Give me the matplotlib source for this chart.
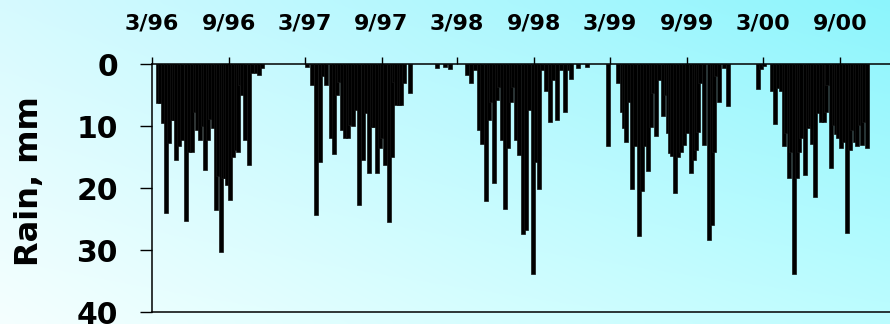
import numpy as np
import pandas as pd
import matplotlib
matplotlib.use("Agg")
import matplotlib.pyplot as plt
import matplotlib.dates as mdates

# Daily rainfall (mm) by day of year, one pair of lists per wet season
doy_1996 = [75, 80, 87, 94, 102, 109, 114, 118, 126, 133, 142, 149, 157, 164, 169,
            176, 183, 188, 195, 200, 207, 214, 219, 226, 231, 236, 240, 247, 255,
            262, 267, 271, 276, 283, 293, 300, 310, 317, 324]
rain_1996 = [6.3, 6.3, 9.5, 24.0, 12.8, 9.0, 9.0, 15.5, 13.3, 12.3, 25.4, 14.2, 14.2,
             7.7, 10.6, 12.3, 10.0, 17.1, 12.3, 8.8, 10.4, 23.5, 18.0, 30.3, 18.4, 18.4,
             19.5, 22.0, 15.0, 13.9, 14.2, 3.4, 5.0, 12.3, 16.3, 1.5, 1.5, 1.8, 0.7]

doy_1997 = [66, 78, 87, 97, 104, 111, 123, 130, 137, 142, 149, 156, 164, 168, 176,
            183, 190, 200, 207, 214, 221, 226, 233, 240, 245, 252, 262, 269, 274,
            278, 286, 290, 298, 312]
rain_1997 = [0.5, 3.4, 24.4, 15.8, 2.0, 3.4, 11.9, 14.5, 5.0, 2.9, 10.6, 11.9, 11.9,
             9.8, 10.0, 7.4, 22.7, 15.5, 7.9, 17.6, 10.1, 10.1, 17.6, 13.5, 11.9, 16.3,
             25.5, 15.0, 2.9, 6.6, 6.6, 6.6, 3.1, 4.7]

doy_1998 = [11, 31, 43, 83, 93, 102, 112, 119, 129, 136, 141, 148, 155, 160, 167,
            174, 181, 188, 193, 200, 208, 217, 224, 231, 241, 248, 255, 262, 272,
            282, 289, 298, 308, 318, 327, 332, 349]
rain_1998 = [0.7, 0.5, 0.8, 1.8, 3.1, 1.0, 10.6, 12.9, 22.1, 9.0, 6.1, 19.2, 5.8, 3.7,
             12.3, 23.4, 13.5, 6.1, 3.7, 12.3, 14.7, 27.4, 26.8, 7.4, 33.9, 15.8, 20.2,
             1.0, 4.4, 9.4, 2.6, 9.0, 1.0, 7.7, 1.0, 2.4, 0.6]

doy_1999 = [5, 55, 79, 89, 94, 98, 106, 113, 120, 129, 137, 144, 151, 158, 163, 170,
            177, 187, 194, 199, 204, 208, 215, 223, 230, 237, 244, 254, 261, 266,
            270, 275, 285, 297, 304, 309, 313, 321, 333, 342]
rain_1999 = [0.5, 13.3, 3.1, 7.7, 10.4, 12.6, 6.1, 20.2, 13.3, 27.7, 20.5, 13.3, 17.2,
             10.1, 4.7, 11.6, 2.6, 8.4, 5.0, 11.1, 14.4, 14.9, 20.8, 15.0, 14.2, 13.0,
             11.1, 17.6, 15.5, 13.9, 10.9, 3.1, 13.1, 28.4, 26.0, 14.2, 2.0, 6.1, 0.6,
             6.7]

doy_2000 = [49, 56, 63, 82, 90, 97, 104, 111, 116, 123, 128, 135, 142, 147, 152, 161,
            168, 173, 178, 185, 192, 200, 207, 212, 214, 223, 231, 235, 240, 247, 255,
            262, 269, 274, 281, 286, 293, 298, 302, 310]
rain_2000 = [4.1, 0.8, 0.3, 4.4, 9.7, 3.9, 4.4, 13.3, 11.1, 18.4, 14.2, 33.9, 18.4,
             14.2, 12.0, 17.9, 10.4, 10.0, 12.9, 21.4, 7.9, 9.4, 9.4, 7.7, 3.4, 16.8,
             9.8, 11.3, 11.9, 13.5, 12.5, 27.3, 13.9, 10.6, 12.6, 13.2, 9.8, 13.0, 9.4,
             13.5]

tick_dates = ["1996-03-01", "1996-09-01", "1997-03-01", "1997-09-01", "1998-03-01",
              "1998-09-01", "1999-03-01", "1999-09-01", "2000-03-01", "2000-09-01"]
tick_labels = ["3/96", "9/96", "3/97", "9/97", "3/98", "9/98", "3/99", "9/99",
               "3/00", "9/00"]
rain_ticks = [0, 10, 20, 30, 40]

seasons = [(1996, doy_1996, rain_1996), (1997, doy_1997, rain_1997),
           (1998, doy_1998, rain_1998), (1999, doy_1999, rain_1999),
           (2000, doy_2000, rain_2000)]

day_num, rain = [], []
for year, doys, mm in seasons:
    jan1 = pd.Timestamp(year=year, month=1, day=1)
    day_num += [mdates.date2num(jan1 + pd.Timedelta(days=d - 1)) for d in doys]
    rain += mm

W, H = 890, 324
fig = plt.figure(figsize=(W / 100, H / 100), dpi=100)

# diagonal pale-to-cyan background wash
bg = fig.add_axes([0, 0, 1, 1], zorder=-10)
ny, nx = 60, 160
u = np.linspace(0, 1, nx)[None, :]
v = np.linspace(1, 0, ny)[:, None]
c_bl = np.array([0.96, 1.00, 1.00])
c_br = np.array([0.74, 0.99, 1.00])
c_tl = np.array([0.84, 0.98, 1.00])
c_tr = np.array([0.55, 0.96, 0.99])
img = ((1 - u) * (1 - v))[..., None] * c_bl + (u * (1 - v))[..., None] * c_br \
    + ((1 - u) * v)[..., None] * c_tl + (u * v)[..., None] * c_tr
bg.imshow(img, aspect="auto", extent=[0, 1, 0, 1], interpolation="bicubic")
bg.set_axis_off()

left, right = 152 / W, 1.0
bottom, top = 1 - 312 / H, 1 - 64 / H
ax = fig.add_axes([left, bottom, right - left, top - bottom])
ax.patch.set_alpha(0)

ax.bar(day_num, rain, width=9, align="center", color="black",
       edgecolor="#151515", linewidth=0.5)

x0 = mdates.date2num(pd.Timestamp("1996-03-01"))
ax.set_xlim(x0, x0 + 1765)
ax.set_ylim(40, 0)

ax.xaxis.tick_top()
ax.set_xticks([mdates.date2num(pd.Timestamp(d)) for d in tick_dates])
ax.set_xticklabels(tick_labels)
ax.set_yticks(rain_ticks)
ax.set_yticklabels([str(t) for t in rain_ticks])

for lab in ax.get_xticklabels():
    lab.set_fontweight("bold")
for lab in ax.get_yticklabels():
    lab.set_fontweight("bold")

ax.tick_params(axis="x", direction="out", length=5, width=1.0, pad=17,
               labelsize=16, colors="black")
ax.tick_params(axis="y", direction="out", length=8.6, width=1.0, pad=16,
               labelsize=21.5, colors="black")

for side in ("left", "top", "bottom"):
    ax.spines[side].set_linewidth(1.1)
    ax.spines[side].set_color("black")
ax.spines["right"].set_visible(False)

fig.text(30 / W, 1 - 181 / H, "Rain, mm", rotation=90, ha="center", va="center",
         fontsize=23, fontweight="bold")

fig.savefig("out.png", dpi=100)
